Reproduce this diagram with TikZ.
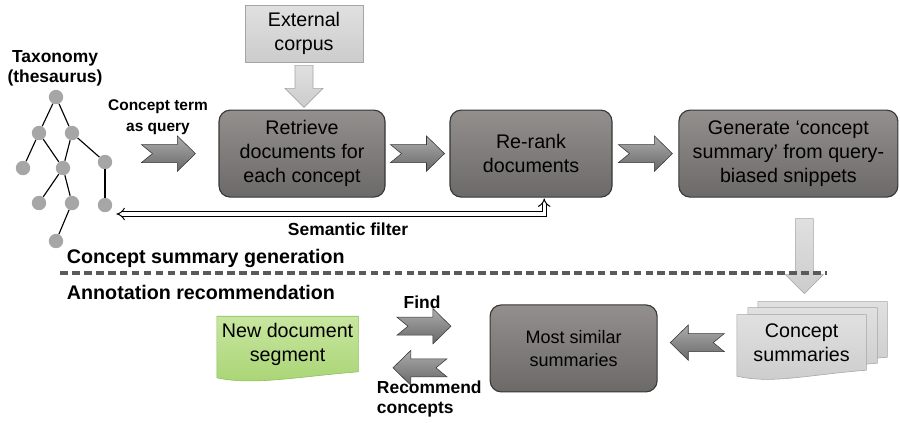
\documentclass[tikz,border=0pt]{standalone}
\usepackage{fontspec}
\setmainfont{Liberation Sans}
\usepackage{xcolor}
\usepackage{tikz}
\usetikzlibrary{arrows.meta, positioning, calc, backgrounds}
\definecolor{boxtop}{RGB}{146,143,141}
\definecolor{boxbot}{RGB}{108,106,104}
\definecolor{boxline}{RGB}{55,55,55}
\definecolor{arrtop}{RGB}{172,172,172}
\definecolor{arrbot}{RGB}{104,104,104}
\definecolor{lighttop}{RGB}{224,224,224}
\definecolor{lightbot}{RGB}{204,204,204}
\definecolor{lightline}{RGB}{165,165,165}
\definecolor{greentop}{RGB}{200,230,160}
\definecolor{greenbot}{RGB}{168,212,115}
\definecolor{greenline}{RGB}{140,190,90}
\definecolor{treegray}{RGB}{166,166,166}
\definecolor{dashgray}{RGB}{90,90,90}
\tikzset{
  stepbox/.style={
    draw=boxline, rounded corners=8pt, thick, align=center,
    top color=boxtop, bottom color=boxbot,
    font=\fontsize{14}{17}\selectfont,
    minimum width=4.15cm, minimum height=2.175cm, inner sep=2pt
  },
  corpusbox/.style={
    draw=lightline, align=center, top color=lighttop, bottom color=lightbot,
    font=\fontsize{14}{17}\selectfont,
    minimum width=2.95cm, minimum height=1.425cm
  },
  docnode/.style={
    align=center, font=\fontsize{14}{17}\selectfont,
    minimum width=3.4cm, minimum height=1.375cm, inner sep=1pt
  },
  greendoc/.style={draw=greenline, top color=greentop, bottom color=greenbot},
  graydoc/.style={draw=lightline, top color=lighttop, bottom color=lightbot},
  notchfill/.style={draw=boxline, top color=arrtop, bottom color=arrbot},
  lightfill/.style={draw=lightline, top color=lighttop, bottom color=lightbot},
  treenode/.style={circle, fill=treegray, minimum size=0.36cm, inner sep=0pt},
  treeedge/.style={thick, black},
  guidelabel/.style={font=\bfseries\fontsize{12.4}{14.3}\selectfont, align=center},
  parttitle/.style={font=\bfseries\fontsize{14}{17}\selectfont, anchor=west},
  filterarrow/.style={line width=0.7pt, double=white, double distance=2.4pt,
    {Implies}-{Implies}},
  sepline/.style={dashgray, line width=2.4pt, dash pattern=on 5.5pt off 3pt},
  pics/notcharrow/.style={code={
    \draw[notchfill] (-0.675,0.225) -- (0.225,0.225) -- (0.225,0.44)
      -- (0.675,0) -- (0.225,-0.44) -- (0.225,-0.225) -- (-0.675,-0.225)
      -- (-0.4,0) -- cycle;
  }},
  pics/downarrow/.style={code={
    \draw[lightfill] (-0.225,0) -- (-0.225,{-#1+0.475}) -- (-0.475,{-#1+0.475})
      -- (0,-#1) -- (0.475,{-#1+0.475}) -- (0.225,{-#1+0.475}) -- (0.225,0)
      -- cycle;
  }},
}
\newcommand\wavydoc[3]{%
  \draw[#2] ([shift={#3}]#1.north west) -- ([shift={#3}]#1.north east)
    -- ([shift={#3}]#1.south east) .. controls +(-1.5,-0.12) and +(0.9,-0.2)
    .. ([shift={#3}]$(#1.south west)+(0,-0.15)$) -- cycle;}

\begin{document}
\begin{tikzpicture}
  \useasboundingbox (0,0) rectangle (22.5,-10.55);

  % Taxonomy tree
  \node[guidelabel] (taxlabel) at (1.375,-1.7) {Taxonomy\\(thesaurus)};
  \node[treenode] (t1) at (1.4,-2.425) {};
  \node[treenode] (t2) at (0.975,-3.325) {};
  \node[treenode] (t3) at (1.8,-3.325) {};
  \node[treenode] (t4) at (0.575,-4.2) {};
  \node[treenode] (t5) at (1.575,-4.2) {};
  \node[treenode] (t6) at (2.625,-4.05) {};
  \node[treenode] (t7) at (0.975,-5.075) {};
  \node[treenode] (t8) at (1.8,-5.075) {};
  \node[treenode] (t9) at (2.625,-5.125) {};
  \node[treenode] (t10) at (1.4,-6.025) {};
  \foreach \a/\b in {t1/t2, t1/t3, t2/t4, t2/t5, t3/t5, t3/t6, t5/t7, t5/t8, t6/t9, t8/t10}
    \draw[treeedge] (\a) -- (\b);

  % Concept summary generation
  \node[guidelabel, font=\bfseries\fontsize{11}{14.8}\selectfont] (query) at (3.95,-2.93)
    {Concept term\\as query};
  \node[stepbox] (retrieve) at (7.55,-3.84) {Retrieve\\documents for\\each concept};
  \node[corpusbox] (corpus) at (7.6,-0.84) {External\\corpus};
  \node[stepbox, minimum width=4.05cm] (rerank) at (13.275,-3.84) {Re-rank\\documents};
  \node[stepbox, minimum width=5.475cm] (generate) at (19.71,-3.84)
    {Generate ‘concept\\summary’ from query-\\biased snippets};

  \pic at ([yshift=-0.075cm]corpus.south) {downarrow=1.05};
  \pic at ($(retrieve.west)+(-1.25,0)$) {notcharrow};
  \pic at ($(retrieve.east)!0.5!(rerank.west)$) {notcharrow};
  \pic at ($(rerank.east)!0.5!(generate.west)$) {notcharrow};
  \pic at ([xshift=0.4cm,yshift=-0.525cm]generate.south) {downarrow=1.875};

  \draw[filterarrow] ([xshift=0.33cm,yshift=-0.02cm]rerank.south)
    |- ($(t9.east)+(0.1,-0.225)$);
  \node[guidelabel] (filter) at (8.7,-5.73) {Semantic filter};

  % Separator
  \coordinate (sepleft) at (1.5,-6.825);
  \coordinate (sepright) at (20.675,-6.825);
  \draw[sepline] (sepleft) -- (sepright);
  \node[parttitle] (gentitle) at (1.55,-6.45) {Concept summary generation};
  \node[parttitle] (anntitle) at (1.55,-7.3) {Annotation recommendation};

  % Annotation recommendation
  \node[docnode, minimum width=3.525cm] (segment) at (7.19,-8.6) {New document\\segment};
  \node[stepbox, minimum width=4.175cm, font=\fontsize{12.8}{16}\selectfont] (similar)
    at (14.34,-8.71) {Most similar\\summaries};
  \node[docnode, minimum width=3.225cm] (summaries) at (20.04,-8.56) {Concept\\summaries};

  \begin{scope}[on background layer]
    \wavydoc{segment}{greendoc}{(0,0)}
    \wavydoc{summaries}{graydoc}{(0.525,0.325)}
    \wavydoc{summaries}{graydoc}{(0.275,0.175)}
    \wavydoc{summaries}{graydoc}{(0,0)}
  \end{scope}

  \pic at ($(segment.east)!0.5!(similar.west)+(0,0.5)$) {notcharrow};
  \pic[xscale=-1] at ($(segment.east)!0.5!(similar.west)+(-0.1,-0.54)$) {notcharrow};
  \pic[xscale=-1] at ($(similar.east)!0.5!(summaries.west)+(0,0.07)$) {notcharrow};

  \node[guidelabel] (find) at (10.55,-7.55) {Find};
  \node[guidelabel, anchor=west, align=left] (recommend) at (9.3,-9.98)
    {Recommend\\concepts};
\end{tikzpicture}
\end{document}
